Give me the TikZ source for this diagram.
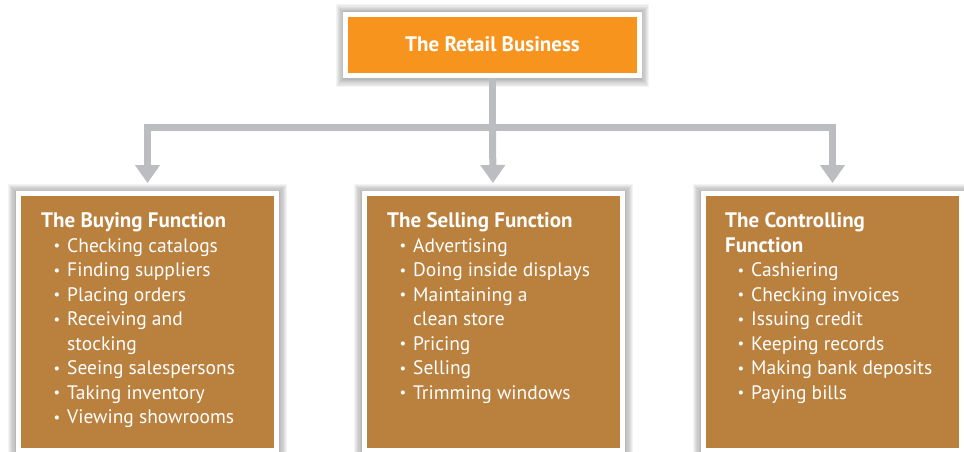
\documentclass[tikz,border=0pt]{standalone}
\usepackage{fontspec}
\setmainfont{PT Sans}
\usetikzlibrary{arrows.meta,backgrounds}
\definecolor{topor}{HTML}{F7941E}
\definecolor{boxbr}{HTML}{B9803E}
\definecolor{conng}{HTML}{BCBDC0}
\tikzset{
  topbox/.style={fill=topor, draw=white, line width=5pt, minimum width=294pt, minimum height=61pt, inner sep=0pt,
     text=white, font=\fontsize{21}{24}\selectfont\bfseries},
  fbox/.style={fill=boxbr, draw=white, line width=5pt, minimum width=258pt, minimum height=257pt, inner sep=0pt},
  ftext/.style={anchor=north west, inner sep=0pt, align=left, text=white, font=\fontsize{19.5}{24.5}\selectfont},
  conn/.style={draw=conng, line width=7pt, line join=miter},
  connarr/.style={conn, -{Triangle[width=24pt,length=18pt]}, shorten >=8pt},
}
\newcommand{\ttl}[1]{{\fontsize{21}{24.5}\selectfont\bfseries #1}}
\newcommand{\itm}[1]{\makebox[26pt][l]{\hspace{12.5pt}\raisebox{1.5pt}{\scalebox{0.75}{•}}}#1}
\newcommand{\cnt}[1]{\hspace*{26pt}#1}
\newcommand{\shadowbox}[4]{%
  \foreach \k in {1,...,7} {
    \fill[black, opacity=0.045] (#1-\k*1.2, #2-\k*1.2+1) rectangle (#3+\k*1.2, #4+\k*1.2+1);
  }}
\begin{document}
\begin{tikzpicture}[x=1pt,y=-1pt]
\useasboundingbox (0,0) rectangle (964,451);
\node[topbox] (top) at (492.5,44.5) {The Retail Business};
\node[fbox] (buy) at (147.5,322) {};
\node[fbox] (sell) at (493,322) {};
\node[fbox] (ctrl) at (832.5,322) {};
\coordinate (j) at (492.5,127);
\begin{scope}[on background layer]
\fill[white] (0,0) rectangle (964,451);
\shadowbox{344}{11.5}{641}{77.5}
\shadowbox{16}{191}{279}{456}
\shadowbox{362}{191}{625}{456}
\shadowbox{701}{191}{964}{456}
\draw[conn] (top.south) -- (j);
\draw[connarr] (j) -| (buy.north);
\draw[connarr] (j) -- (sell.north);
\draw[connarr] (j) -| (ctrl.north);
\end{scope}
\node[ftext] (tbuy) at (41,212.5) {\ttl{The Buying Function}\\
\itm{Checking catalogs}\\
\itm{Finding suppliers}\\
\itm{Placing orders}\\
\itm{Receiving and}\\
\cnt{stocking}\\
\itm{Seeing salespersons}\\
\itm{Taking inventory}\\
\itm{Viewing showrooms}};
\node[ftext] (tsell) at (387,212.5) {\ttl{The Selling Function}\\
\itm{Advertising}\\
\itm{Doing inside displays}\\
\itm{Maintaining a}\\
\cnt{clean store}\\
\itm{Pricing}\\
\itm{Selling}\\
\itm{Trimming windows}};
\node[ftext] (tctrl) at (725,212.5) {\ttl{The Controlling}\\
\ttl{Function}\\
\itm{Cashiering}\\
\itm{Checking invoices}\\
\itm{Issuing credit}\\
\itm{Keeping records}\\
\itm{Making bank deposits}\\
\itm{Paying bills}};
\end{tikzpicture}
\end{document}
